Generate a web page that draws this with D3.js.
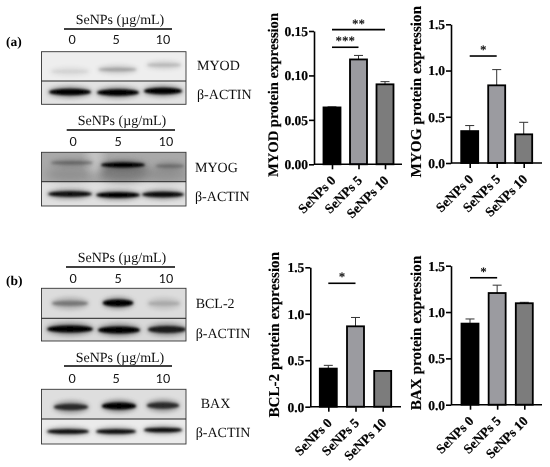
<!DOCTYPE html>
<html><head><meta charset="utf-8">
<script src="https://cdn.jsdelivr.net/npm/d3@7"></script>
<style>html,body{margin:0;padding:0;background:#fff}svg{display:block;text-rendering:geometricPrecision}</style>
</head><body><svg id="c" width="550" height="467"></svg>
<script>
// ---- data ----
const categories = ["SeNPs 0","SeNPs 5","SeNPs 10"];
const lanes = ["0","5","10"];
const barColors = ["#000000","#9b9ba0","#7b7b7b"];
const myodValues = [0.064,0.118,0.090], myodErrors = [0.0006,0.0045,0.003];
const myogValues = [0.345,0.84,0.31], myogErrors = [0.06,0.17,0.13];
const bcl2Values = [0.41,0.865,0.385], bcl2Errors = [0.035,0.095,0.004];
const baxValues = [0.875,1.205,1.095], baxErrors = [0.05,0.085,0.01];
const myodTicks = [0,0.05,0.10,0.15];
const unitTicks = [0,0.5,1.0,1.5];
const myodSig = [[0,1,0.1317,"***"],[0,2,0.1515,"**"]];
const myogSig = [[0,1,1.157,"*"]];
const bcl2Sig = [[0,1,1.328,"*"]];
const baxSig = [[0,1,1.37,"*"]];
// band darkness read from the blots (0 = background, 1 = black)
const myodBands = [0.2,0.42,0.33], myodActin = [1,1,1];
const myogBands = [0.5,1,0.45], myogActin = [0.95,1,0.95];
const bcl2Bands = [0.55,1,0.33], bcl2Actin = [1,1,0.9];
const baxBands = [0.85,1,0.85], baxActin = [0.95,0.95,0.95];

// ---- layout ----
const svg = d3.select("#c");
const serif = "'Liberation Serif',serif", sans = "Lato,'Liberation Sans',sans-serif";
const defs = svg.append("defs");
[["b1",1.1],["b2",2.2],["b3",4],["soft",0.3]].forEach(([id,s])=>{
  defs.append("filter").attr("id",id).attr("x","-30%").attr("y","-80%").attr("width","160%").attr("height","260%")
    .append("feGaussianBlur").attr("stdDeviation",s);
});

const charts = [
 {name:"MYOD",v:myodValues,e:myodErrors,t:myodTicks,fmt:".2f",max:0.15,sig:myodSig,x0:314,x1:402,y0:164.3,yT:31,c0:332,c2:385,tx:278,tc:95,fs:14.6},
 {name:"MYOG",v:myogValues,e:myogErrors,t:unitTicks,fmt:".1f",max:1.5,sig:myogSig,x0:451,x1:542,y0:163,yT:24.3,c0:469.7,c2:523.7,tx:421,tc:91.7,fs:15.2},
 {name:"BCL-2",v:bcl2Values,e:bcl2Errors,t:unitTicks,fmt:".1f",max:1.5,sig:bcl2Sig,x0:310.3,x1:401,y0:406.7,yT:267.3,c0:328.3,c2:382.7,tx:279,tc:334.7,fs:15.1},
 {name:"BAX",v:baxValues,e:baxErrors,t:unitTicks,fmt:".1f",max:1.5,sig:baxSig,x0:451,x1:542,y0:404.7,yT:265.7,c0:470,c2:524.3,tx:420.7,tc:333,fs:15.2}
];
const root = svg.append("g").attr("filter","url(#soft)");
charts.forEach(c=>{
  const y = d3.scaleLinear().domain([0,c.max]).range([c.y0,c.yT]);
  const x = d3.scalePoint().domain(categories).range([c.c0,c.c2]);
  const g = root.append("g");
  const bw = 17;
  const bars = g.selectAll("g.b").data(categories).join("g");
  bars.append("line").attr("x1",d=>x(d)).attr("x2",d=>x(d))
    .attr("y1",(d,i)=>y(c.v[i])).attr("y2",(d,i)=>y(c.v[i]+c.e[i])).attr("stroke","#333").attr("stroke-width",1);
  bars.append("line").attr("x1",d=>x(d)-4.5).attr("x2",d=>x(d)+4.5)
    .attr("y1",(d,i)=>y(c.v[i]+c.e[i])).attr("y2",(d,i)=>y(c.v[i]+c.e[i])).attr("stroke","#333").attr("stroke-width",1);
  bars.append("rect").attr("x",d=>x(d)-bw/2).attr("width",bw)
    .attr("y",(d,i)=>y(c.v[i])).attr("height",(d,i)=>c.y0-y(c.v[i]))
    .attr("fill",(d,i)=>barColors[i]).attr("stroke","#000").attr("stroke-width",1.8);
  const ay = g.append("g").attr("transform",`translate(${c.x0},0)`)
    .call(d3.axisLeft(y).tickValues(c.t).tickFormat(d3.format(c.fmt)).tickSize(5).tickSizeOuter(0));
  const ax = g.append("g").attr("transform",`translate(0,${c.y0})`)
    .call(d3.axisBottom(x).tickSize(5).tickSizeOuter(0));
  ax.select(".domain").attr("d",`M${c.x0},0H${c.x1}`);
  [ay,ax].forEach(a=>{a.selectAll("path,line").attr("stroke","#000").attr("stroke-width",1.6);
    a.selectAll("text").attr("font-family",serif).attr("font-weight","bold").attr("fill","#000").attr("stroke","#000").attr("stroke-width",.2);});
  ay.selectAll("text").attr("font-size",13.5).attr("x",-6);
  ax.selectAll("text").attr("font-size",13.4).attr("text-anchor","end").attr("dy",0)
    .attr("transform","translate(4,17) rotate(-45)").attr("x",0).attr("y",0);
  g.append("text").attr("transform",`translate(${c.tx},${c.tc}) rotate(-90)`).attr("text-anchor","middle")
    .attr("font-family",serif).attr("font-weight","bold").attr("font-size",c.fs).attr("stroke","#000").attr("stroke-width",.15).text(c.name+" protein expression");
  c.sig.forEach(([a,b,val,star])=>{
    const xa=x(categories[a]), xb=x(categories[b]);
    g.append("line").attr("x1",xa).attr("x2",xb).attr("y1",y(val)).attr("y2",y(val)).attr("stroke","#000").attr("stroke-width",1.6);
    g.append("text").attr("x",(xa+xb)/2).attr("y",y(val)-2).attr("text-anchor","middle")
      .attr("font-family",serif).attr("font-weight","bold").attr("font-size",13).text(star);
  });
});

// ---- blots ----
const blots = [
 {id:"MYOD",band:myodBands,actin:myodActin,x0:41.5,x1:186,top:51.7,mid:81,bot:104.3,bg:"#eeeeee",bgA:"#e2e2e2",by:[71.5,69.5,65],bry:2.4,brx:[20,20,18],bc:[70,117.5,164],ay:[92,92.5,91],arx:[22,22,20],ac:[70,118,163],ary:3.2,
  head:{cx:120,base:24,ly:29,lx0:64,lx1:172,num:44,nx:[72,116,163]},lab:{x:197,y:70,t:"MYOD"},act:{x:197,y:98.7}},
 {id:"MYOG",band:myogBands,actin:myogActin,x0:41.5,x1:186,top:152.3,mid:181.7,bot:206,bg:"#a9a9a9",bgA:"#e0e0e0",by:[162.7,165,166],bry:2.4,brx:[22,23,15],bc:[72,123,170],ay:[194,195,194.5],arx:[23,23,22],ac:[70,118,163],ary:2.8,smear:true,
  head:{cx:122,base:125,ly:130,lx0:66.7,lx1:175,num:146,nx:[73,118,166]},lab:{x:195,y:171.7,t:"MYOG"},act:{x:195,y:201}},
 {id:"BCL2",band:bcl2Bands,actin:bcl2Actin,x0:41.5,x1:186,top:288.3,mid:318.3,bot:341,bg:"#dcdcdc",bgA:"#d8d8d8",by:[303.3,303,303.5],bry:3.4,brx:[19,16,17],bc:[70,118,164],ay:[329,330,329.5],arx:[24,22,20],ac:[70,119,167],ary:3.6,
  head:{cx:122,base:262,ly:267,lx0:66,lx1:175,num:283,nx:[73,118,166]},lab:{x:195.7,y:307.7,t:"BCL-2"},act:{x:195.7,y:337.7}},
 {id:"BAX",band:baxBands,actin:baxActin,x0:41.5,x1:186,top:389.3,mid:419,bot:444,bg:"#dedede",bgA:"#ebebeb",by:[407,406,405.5],bry:3.6,brx:[18,18,17],bc:[71,119,163],ay:[431.5,431.5,430],arx:[22,21,20],ac:[68,116,163],ary:2.4,
  head:{cx:120,base:361.7,ly:366,lx0:64,lx1:172,num:382.7,nx:[72,116,163]},lab:{x:200.7,y:408,t:"BAX"},act:{x:195.7,y:437}}
];
const dark = d3.scaleLinear().domain([0,1]).range([0,1]);
blots.forEach(b=>{
  const g = root.append("g");
  const cid = "clip"+b.id;
  defs.append("clipPath").attr("id",cid).append("rect").attr("x",b.x0).attr("y",b.top).attr("width",b.x1-b.x0).attr("height",b.bot-b.top);
  const inner = g.append("g").attr("clip-path",`url(#${cid})`);
  inner.append("rect").attr("x",b.x0).attr("y",b.top).attr("width",b.x1-b.x0).attr("height",b.mid-b.top).attr("fill",b.bg);
  inner.append("rect").attr("x",b.x0).attr("y",b.mid).attr("width",b.x1-b.x0).attr("height",b.bot-b.mid).attr("fill",b.bgA);
  if(b.smear){
    inner.append("ellipse").attr("cx",123).attr("cy",172).attr("rx",26).attr("ry",10).attr("fill","#555").attr("opacity",.55).attr("filter","url(#b3)");
    inner.append("ellipse").attr("cx",70).attr("cy",174).attr("rx",24).attr("ry",7).attr("fill","#777").attr("opacity",.5).attr("filter","url(#b3)");
    inner.append("ellipse").attr("cx",165).attr("cy",174).attr("rx",22).attr("ry",7).attr("fill","#777").attr("opacity",.5).attr("filter","url(#b3)");
    inner.append("ellipse").attr("cx",95).attr("cy",158).attr("rx",8).attr("ry",16).attr("fill","#d0d0d0").attr("opacity",.7).attr("filter","url(#b3)");
  }
  const drawBands = (vals,cs,ys,rxs,ry)=>{
    inner.selectAll(null).data(vals).join("ellipse").attr("cx",(d,i)=>cs[i]).attr("cy",(d,i)=>ys[i])
      .attr("rx",(d,i)=>rxs[i]).attr("ry",ry*1.8).attr("fill","#444").attr("opacity",d=>dark(d)*.55).attr("filter","url(#b2)");
    inner.selectAll(null).data(vals).join("ellipse").attr("cx",(d,i)=>cs[i]).attr("cy",(d,i)=>ys[i])
      .attr("rx",(d,i)=>rxs[i]*.95).attr("ry",d=>ry*(.5+.5*d)).attr("fill","#000").attr("opacity",d=>dark(d)*dark(d)).attr("filter","url(#b1)");
  };
  drawBands(b.band,b.bc,b.by,b.brx,b.bry);
  drawBands(b.actin,b.ac,b.ay,b.arx,b.ary);
  g.append("rect").attr("x",b.x0).attr("y",b.top).attr("width",b.x1-b.x0).attr("height",b.bot-b.top).attr("fill","none").attr("stroke","#333").attr("stroke-width",.9);
  g.append("line").attr("x1",b.x0).attr("x2",b.x1).attr("y1",b.mid).attr("y2",b.mid).attr("stroke","#222").attr("stroke-width",1);
  const h=b.head;
  g.append("text").attr("x",h.cx).attr("y",h.base).attr("text-anchor","middle").attr("font-family",serif).attr("font-size",14).attr("fill","#111").text("SeNPs (µg/mL)");
  g.append("line").attr("x1",h.lx0).attr("x2",h.lx1).attr("y1",h.ly).attr("y2",h.ly).attr("stroke","#000").attr("stroke-width",1.5);
  g.selectAll(null).data(lanes).join("text").attr("x",(d,i)=>h.nx[i]).attr("y",h.num).attr("text-anchor","middle")
    .attr("font-family",sans).attr("font-size",12.5).attr("fill","#111").text(d=>d);
  g.append("text").attr("x",b.lab.x).attr("y",b.lab.y).attr("font-family",serif).attr("font-size",14).attr("fill","#111").text(b.lab.t);
  g.append("text").attr("x",b.act.x).attr("y",b.act.y).attr("font-family",serif).attr("font-size",14).attr("fill","#111").text("β-ACTIN");
});
[["(a)",46],["(b)",285]].forEach(([t,yy])=>{
  root.append("text").attr("x",6).attr("y",yy).attr("font-family",serif).attr("font-weight","bold").attr("font-size",13.5).text(t);
});
</script></body></html>
